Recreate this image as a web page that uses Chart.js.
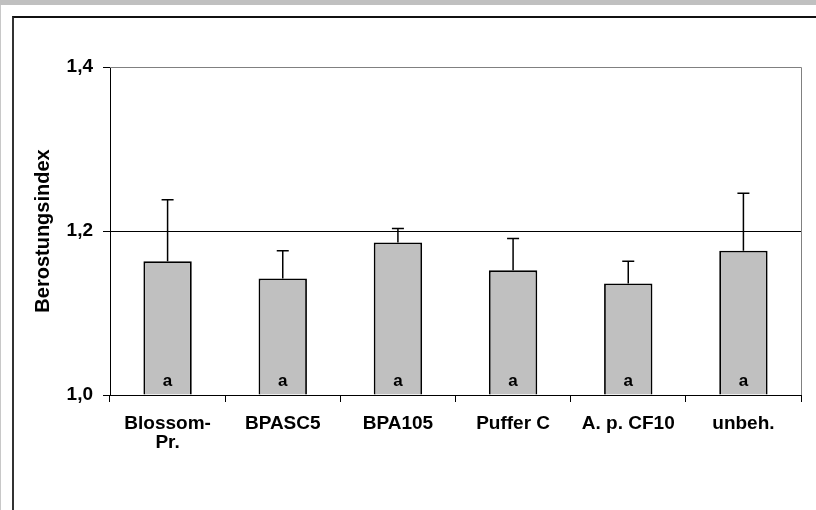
<!DOCTYPE html>
<html>
<head>
<meta charset="utf-8">
<script src="https://cdn.jsdelivr.net/npm/chart.js@4.4.0/dist/chart.umd.min.js"></script>
<style>
    html, body { margin: 0; padding: 0; background: #fff; }
    #wrap { position: relative; width: 816px; height: 510px; overflow: hidden; background: #fff; }
    #topband { position: absolute; left: 0; top: 0; width: 816px; height: 5px; background: #c0c0c0; }
    #leftline { position: absolute; left: 0; top: 5px; width: 1px; height: 505px; background: #c8c8c8; }
    #frame { position: absolute; left: 12px; top: 16px; width: 900px; height: 600px;
             border-top: 2px solid #111; border-left: 2px solid #333; }
    #chart { position: absolute; left: 0; top: 0; }
</style>
</head>
<body>
<div id="wrap">
    <div id="topband"></div>
    <div id="leftline"></div>
    <div id="frame"></div>
    <canvas id="chart" width="816" height="510"></canvas>
</div>
<script>
// Data
const categories = [['Blossom-', 'Pr.'], 'BPASC5', 'BPA105', 'Puffer C', 'A. p. CF10', 'unbeh.'];
const means = [1.163, 1.142, 1.186, 1.152, 1.136, 1.176];
const errors = [0.075, 0.034, 0.017, 0.039, 0.027, 0.070];
const letters = ['a', 'a', 'a', 'a', 'a', 'a'];
const yTicks = [1.0, 1.2, 1.4];

const fontFamily = '"Liberation Sans", Arial, sans-serif';

// error bars (upper only) and significance letters
const extrasPlugin = {
    id: 'extras',
    afterDatasetsDraw(chart) {
        const ctx = chart.ctx;
        const y = chart.scales.y;
        const meta = chart.getDatasetMeta(0);
        ctx.save();
        ctx.strokeStyle = '#000';
        ctx.lineWidth = 1.5;
        meta.data.forEach(function (bar, i) {
            const cx = bar.x;
            const yTop = y.getPixelForValue(means[i] + errors[i]);
            const yBar = y.getPixelForValue(means[i]);
            ctx.beginPath();
            ctx.moveTo(cx, yBar);
            ctx.lineTo(cx, yTop);
            ctx.moveTo(cx - 6, yTop);
            ctx.lineTo(cx + 6, yTop);
            ctx.stroke();

            // letter at the foot of the bar
            ctx.fillStyle = '#000';
            ctx.font = 'bold 17px ' + fontFamily;
            ctx.textAlign = 'center';
            ctx.textBaseline = 'middle';
            ctx.fillText(letters[i], cx, y.getPixelForValue(1.0) - 14);
        });

        // plot area border on top and right
        const area = chart.chartArea;
        ctx.strokeStyle = '#808080';
        ctx.lineWidth = 1;
        ctx.beginPath();
        ctx.moveTo(area.left, area.top + 0.5);
        ctx.lineTo(area.right + 0.5, area.top + 0.5);
        ctx.lineTo(area.right + 0.5, area.bottom);
        ctx.stroke();
        ctx.restore();
    }
};

const chartCtx = document.getElementById('chart').getContext('2d');
const berostungChart = new Chart(chartCtx, {
    type: 'bar',
    data: {
        labels: categories,
        datasets: [{
            data: means,
            backgroundColor: '#c0c0c0',
            borderColor: '#000',
            borderWidth: 1.8,
            barPercentage: 0.42,
            categoryPercentage: 1.0,
            base: 1.0
        }]
    },
    options: {
        responsive: false,
        animation: false,
        layout: {
            padding: { left: 0, top: 67, right: 15, bottom: 0 }
        },
        plugins: {
            legend: { display: false },
            tooltip: { enabled: false }
        },
        scales: {
            x: {
                grid: {
                    offset: true,
                    drawOnChartArea: false,
                    color: '#000',
                    tickLength: 7
                },
                border: { color: '#000', width: 1 },
                ticks: {
                    color: '#000',
                    font: { family: fontFamily, size: 19, weight: 'bold', lineHeight: 1.0 },
                    padding: 12,
                    maxRotation: 0,
                    autoSkip: false
                },
                afterFit: function (scale) { scale.height = 115; }
            },
            y: {
                min: 1.0,
                max: 1.4,
                afterBuildTicks: function (scale) {
                    scale.ticks = yTicks.map(function (v) { return { value: v }; });
                },
                grid: {
                    color: function (c) { return c.tick && c.tick.value === 1.4 ? '#808080' : '#000'; },
                    tickColor: '#000',
                    tickLength: 7
                },
                border: { color: '#000', width: 1 },
                ticks: {
                    color: '#000',
                    font: { family: fontFamily, size: 19, weight: 'bold' },
                    padding: 10,
                    callback: function (v) { return v.toFixed(1).replace('.', ','); }
                },
                title: {
                    display: true,
                    text: 'Berostungsindex',
                    color: '#000',
                    font: { family: fontFamily, size: 20, weight: 'bold' },
                    padding: { top: 31, bottom: 0 }
                },
                afterFit: function (scale) { scale.width = 110; }
            }
        }
    },
    plugins: [extrasPlugin]
});
</script>
</body>
</html>
